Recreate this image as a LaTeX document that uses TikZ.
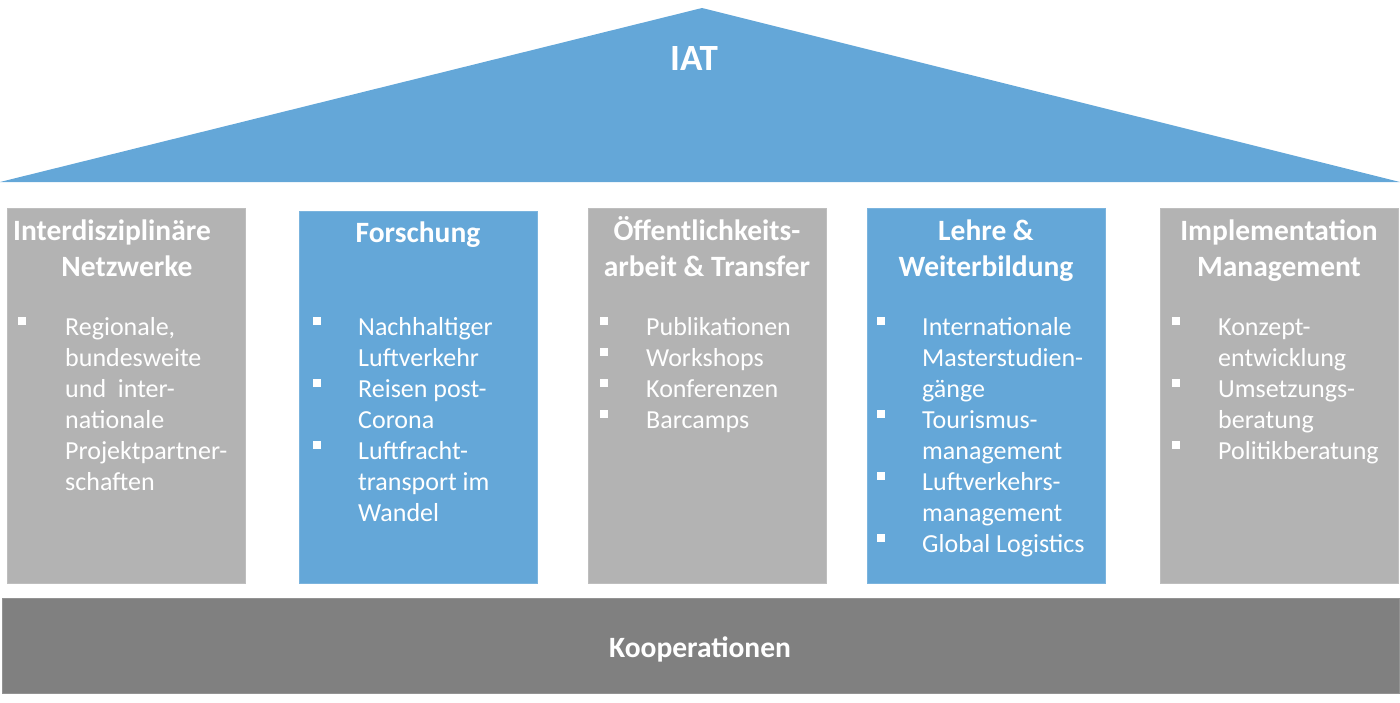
\documentclass[tikz,border=0pt]{standalone}
\usepackage{fontspec}
\setmainfont{Carlito}
\definecolor{roofblue}{RGB}{100,167,216}
\definecolor{pillargray}{RGB}{179,179,179}
\definecolor{basegray}{RGB}{128,128,128}
\newcommand\lin[1]{\hbox{#1}}
\newcommand\cln[1]{\hbox to 0pt{\hss#1\hss}}
\tikzset{
  pillar/.style={draw=#1!85!white, line width=1pt, fill=#1},
  ptitle/.style={text=white, inner sep=0pt, anchor=base,
                 font=\fontsize{29.5}{36}\selectfont\bfseries},
  pitem/.style={text=white, inner sep=0pt, anchor=base west,
                font=\fontsize{26}{31}\selectfont},
  bulletsq/.style={fill=white, draw=none, minimum size=7.5pt, inner sep=0pt},
}
\begin{document}
\begin{tikzpicture}[x=1pt,y=-1pt]
\useasboundingbox (0,0) rectangle (1400,702);
% roof
\fill[roofblue] (0,182) coordinate (roofL) -- (702,8) coordinate (roofT) -- (1400,182) coordinate (roofR) -- cycle;
\node[ptitle, font=\fontsize{37}{44}\selectfont\bfseries] (iat) at (694,70) {\cln{IAT}};
% pillars
\draw[pillar=pillargray] (7,208) rectangle (245,583);
\draw[pillar=roofblue] (299,211) rectangle (537,583);
\draw[pillar=pillargray] (588,208) rectangle (826,583);
\draw[pillar=roofblue] (867,208) rectangle (1105,583);
\draw[pillar=pillargray] (1160,208) rectangle (1398,583);
% base
\draw[pillar=basegray] (2,598) rectangle (1399,693);
\node[ptitle] (koop) at (700,657) {\cln{Kooperationen}};
% titles
\node[ptitle] (t1) at (112,240) {\vtop{\cln{Interdisziplinäre}\cln{\hspace*{30pt}Netzwerke}}};
\node[ptitle] (t2) at (418,242) {\cln{Forschung}};
\node[ptitle] (t3) at (707,240) {\vtop{\cln{Öffentlichkeits-}\cln{arbeit \& Transfer}}};
\node[ptitle] (t4) at (986,240) {\vtop{\cln{Lehre \&}\cln{Weiterbildung}}};
\node[ptitle] (t5) at (1279,240) {\vtop{\cln{Implementation}\cln{Management}}};
% box 1
\node[bulletsq] (b11) at (22,321) {};
\node[pitem] (i11) at (65,335) {\vtop{\lin{Regionale,}\lin{bundesweite}\lin{und\ \ inter-}\lin{nationale}\lin{Projektpartner-}\lin{schaften}}};
% box 2
\node[bulletsq] (b21) at (317,321) {};
\node[pitem] (i21) at (358,335) {\vtop{\lin{Nachhaltiger}\lin{Luftverkehr}}};
\node[bulletsq] (b22) at (317,383) {};
\node[pitem] (i22) at (358,397) {\vtop{\lin{Reisen post-}\lin{Corona}}};
\node[bulletsq] (b23) at (317,445) {};
\node[pitem] (i23) at (358,459) {\vtop{\lin{Luftfracht-}\lin{transport im}\lin{Wandel}}};
% box 3
\node[bulletsq] (b31) at (604,321) {};
\node[pitem] (i31) at (646,335) {Publikationen};
\node[bulletsq] (b32) at (604,352) {};
\node[pitem] (i32) at (646,366) {Workshops};
\node[bulletsq] (b33) at (604,383) {};
\node[pitem] (i33) at (646,397) {Konferenzen};
\node[bulletsq] (b34) at (604,414) {};
\node[pitem] (i34) at (646,428) {Barcamps};
% box 4
\node[bulletsq] (b41) at (881,321) {};
\node[pitem] (i41) at (922,335) {\vtop{\lin{Internationale}\lin{Masterstudien-}\lin{gänge}}};
\node[bulletsq] (b42) at (881,414) {};
\node[pitem] (i42) at (922,428) {\vtop{\lin{Tourismus-}\lin{management}}};
\node[bulletsq] (b43) at (881,476) {};
\node[pitem] (i43) at (922,490) {\vtop{\lin{Luftverkehrs-}\lin{management}}};
\node[bulletsq] (b44) at (881,538) {};
\node[pitem] (i44) at (922,552) {Global Logistics};
% box 5
\node[bulletsq] (b51) at (1176,321) {};
\node[pitem] (i51) at (1218,335) {\vtop{\lin{Konzept-}\lin{entwicklung}}};
\node[bulletsq] (b52) at (1176,383) {};
\node[pitem] (i52) at (1218,397) {\vtop{\lin{Umsetzungs-}\lin{beratung}}};
\node[bulletsq] (b53) at (1176,445) {};
\node[pitem] (i53) at (1218,459) {Politikberatung};
\end{tikzpicture}
\end{document}
